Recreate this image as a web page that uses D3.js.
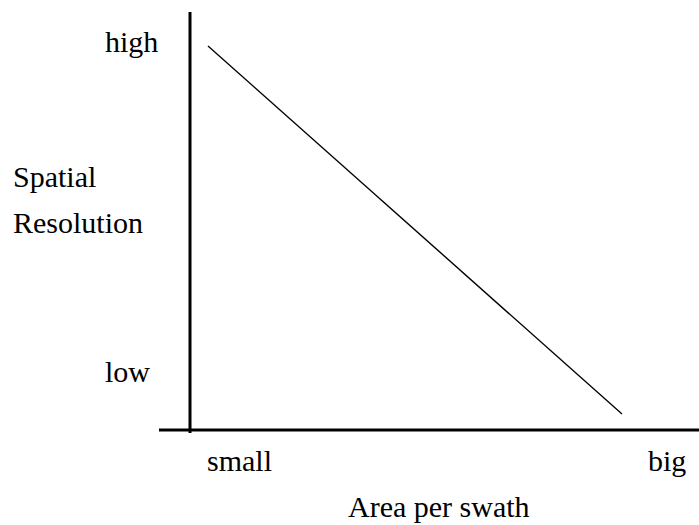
<!DOCTYPE html>
<html>
<head>
<meta charset="utf-8">
<script src="https://cdn.jsdelivr.net/npm/d3@7"></script>
<style>
  html, body { margin: 0; padding: 0; background: #fff; }
</style>
</head>
<body>
<div id="chart"></div>
<script>
// trade-off: bigger swath -> lower spatial resolution
const areaLevels = [0, 1];
const resolutionLevels = [1, 0];
const xTickLabels = ["small", "big"];
const yTickLabels = ["high", "low"];
const xTitle = "Area per swath";
const yTitle = ["Spatial", "Resolution"];

const width = 699, height = 525;
const serif = "'Times New Roman', 'Liberation Serif', Times, 'DejaVu Serif', serif";

const svg = d3.select("#chart")
  .append("svg")
    .attr("width", width)
    .attr("height", height)
    .attr("font-family", serif)
    .attr("font-size", 30);

// axes are drawn as plain thick strokes, no ticks
const axisX = 190, axisY = 430;

const x = d3.scaleLinear().domain([0, 1]).range([208, 622]);
const y = d3.scaleLinear().domain([0, 1]).range([414, 46]);

svg.append("line")
  .attr("x1", axisX).attr("x2", axisX)
  .attr("y1", 12).attr("y2", 433)
  .attr("stroke", "#000")
  .attr("stroke-width", 3);

svg.append("line")
  .attr("x1", 159).attr("x2", width)
  .attr("y1", axisY).attr("y2", axisY)
  .attr("stroke", "#000")
  .attr("stroke-width", 3);

const points = areaLevels.map((a, i) => ({ area: a, res: resolutionLevels[i] }));

svg.append("path")
  .datum(points)
  .attr("fill", "none")
  .attr("stroke", "#000")
  .attr("stroke-width", 1.4)
  .attr("d", d3.line().x(d => x(d.area)).y(d => y(d.res)));

function label(txt, px, py) {
  svg.append("text")
    .attr("x", px).attr("y", py)
    .style("font-family", serif)
    .style("font-size", "30px")
    .attr("fill", "#000")
    .text(txt);
}

// y tick labels
label(yTickLabels[0], 105, 52);
label(yTickLabels[1], 105, 382);

// x tick labels
label(xTickLabels[0], 207, 471);
label(xTickLabels[1], 648, 471);

// titles
label(yTitle[0], 13, 187);
label(yTitle[1], 13, 233);
label(xTitle, 348, 517);
</script>
</body>
</html>
